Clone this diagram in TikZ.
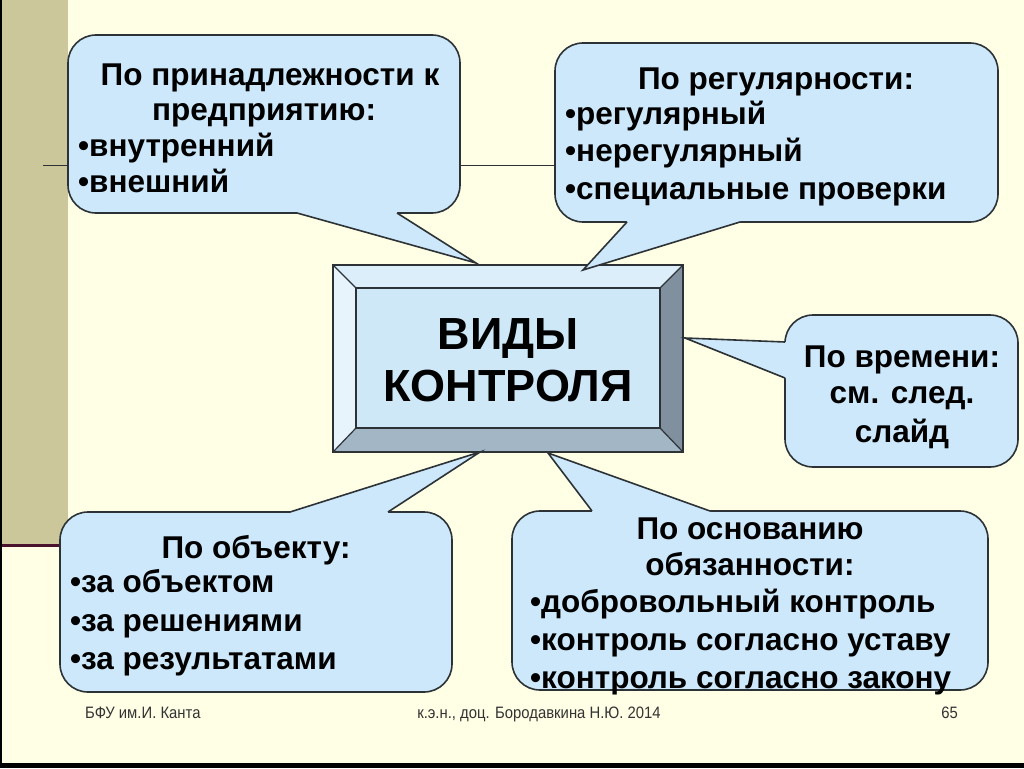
\documentclass[tikz,border=0pt]{standalone}
\usepackage{fontspec}
\setmainfont{Liberation Sans}
\newfontfamily\narrowfont[FakeStretch=0.9]{Liberation Sans}
\definecolor{bg}{RGB}{255,255,230}
\definecolor{strip}{RGB}{204,198,155}
\definecolor{boxblue}{RGB}{204,232,250}
\definecolor{edge}{RGB}{45,50,55}
\definecolor{maroonline}{RGB}{75,18,45}
\definecolor{bevtop}{RGB}{220,238,250}
\definecolor{bevleft}{RGB}{232,244,252}
\definecolor{bevright}{RGB}{128,144,158}
\definecolor{bevbottom}{RGB}{162,182,198}
\definecolor{face}{RGB}{206,232,248}
\tikzset{
  callout/.style={fill=boxblue, draw=edge, line width=1.6pt, rounded corners=28pt},
  tailline/.style={draw=edge, line width=1.6pt, line join=miter},
  bevel/.style={draw=edge, line width=1.2pt, line join=miter},
  title/.style={anchor=base, inner sep=0pt, font=\fontsize{31.5}{36}\selectfont\bfseries},
  item/.style={anchor=base west, inner sep=0pt, font=\fontsize{31.5}{36}\selectfont\bfseries},
  big/.style={anchor=base, inner sep=0pt, font=\fontsize{45}{54}\selectfont\bfseries},
  foot/.style={anchor=base west, inner sep=0pt, font=\fontsize{16.5}{19}\selectfont\narrowfont, text=black!80}
}
\begin{document}
\begin{tikzpicture}[x=1pt,y=-1pt]
\useasboundingbox (0,0) rectangle (1024,768);
\fill[bg] (0,0) rectangle (1024,768);
\fill[strip] (0,0) rectangle (68,545);
\draw[maroonline, line width=3pt] (0,545) -- (70,545);
\draw[edge, line width=1pt] (43,165) -- (990,165);
% frame
\fill[black] (0,763) rectangle (1024,768);
\fill[black] (0,0) rectangle (2,768);

% central bevel box
\fill[bevtop] (333,265) -- (683,265) -- (660,288) -- (356,288) -- cycle;
\fill[bevleft] (333,265) -- (356,288) -- (356,428) -- (333,452) -- cycle;
\fill[bevright] (683,265) -- (683,452) -- (660,428) -- (660,288) -- cycle;
\fill[bevbottom] (333,452) -- (683,452) -- (660,428) -- (356,428) -- cycle;
\fill[face] (356,288) rectangle (660,428);
\draw[bevel] (333,265) rectangle (683,452);
\draw[bevel] (356,288) rectangle (660,428);
\draw[bevel] (333,265) -- (356,288) (683,265) -- (660,288) (683,452) -- (660,428) (333,452) -- (356,428);
\node[big] (vidy) at (508,349) {ВИДЫ};
\node[big] (kontrolya) at (508,401) {КОНТРОЛЯ};

% box 1
\draw[callout] (68,35) rectangle (460,213);
\fill[boxblue] (297,210) -- (297,213) -- (476,263) -- (397,213) -- (397,210) -- cycle;
\draw[tailline] (297,213) -- (476,263) -- (397,213);
\node[title] (b1a) at (270,85) {По принадлежности к};
\node[title] (b1b) at (264,120) {предприятию:};
\node[item] (b1c) at (78,156) {•внутренний};
\node[item] (b1d) at (78,192) {•внешний};

% box 2
\draw[callout] (555,43) rectangle (998,222);
\fill[boxblue] (627,219) -- (627,222) -- (583,270) -- (740,222) -- (740,219) -- cycle;
\draw[tailline] (627,222) -- (583,270) -- (740,222);
\node[title] (b2a) at (776,89) {По регулярности:};
\node[item] (b2b) at (565,124) {•регулярный};
\node[item] (b2c) at (565,161) {•нерегулярный};
\node[item] (b2d) at (565,199) {•специальные проверки};

% box 3
\draw[callout] (785,315) rectangle (1018,467);
\fill[boxblue] (788,342) -- (785,342) -- (685,338) -- (785,378) -- (788,378) -- cycle;
\draw[tailline] (785,342) -- (685,338) -- (785,378);
\node[title] (b3a) at (902,367) {По времени:};
\node[title] (b3b) at (902,403) {см. след.};
\node[title] (b3c) at (902,442) {слайд};

% box 4
\draw[callout] (60,512) rectangle (452,692);
\fill[boxblue] (290,515) -- (290,512) -- (480,452) -- (388,512) -- (388,515) -- cycle;
\draw[tailline] (290,512) -- (480,452) -- (388,512);
\node[title] (b4a) at (256,558) {По объекту:};
\node[item] (b4b) at (70,592) {•за объектом};
\node[item] (b4c) at (70,631) {•за решениями};
\node[item] (b4d) at (70,669) {•за результатами};

% box 5
\draw[callout] (512,511) rectangle (988,690);
\fill[boxblue] (592,514) -- (592,511) -- (548,453) -- (710,511) -- (710,514) -- cycle;
\draw[tailline] (592,511) -- (548,453) -- (710,511);
\node[title] (b5a) at (750,539) {По основанию};
\node[title] (b5b) at (750,575) {обязанности:};
\node[item] (b5c) at (530,612) {•добровольный контроль};
\node[item] (b5d) at (530,650) {•контроль согласно уставу};
\node[item] (b5e) at (530,688) {•контроль согласно закону};

% footer
\node[foot] (f1) at (85,718) {БФУ им.И. Канта};
\node[foot, anchor=base] (f2) at (539,718) {к.э.н., доц. Бородавкина Н.Ю. 2014};
\node[foot, anchor=base east] (f3) at (958,718) {65};
\end{tikzpicture}
\end{document}
